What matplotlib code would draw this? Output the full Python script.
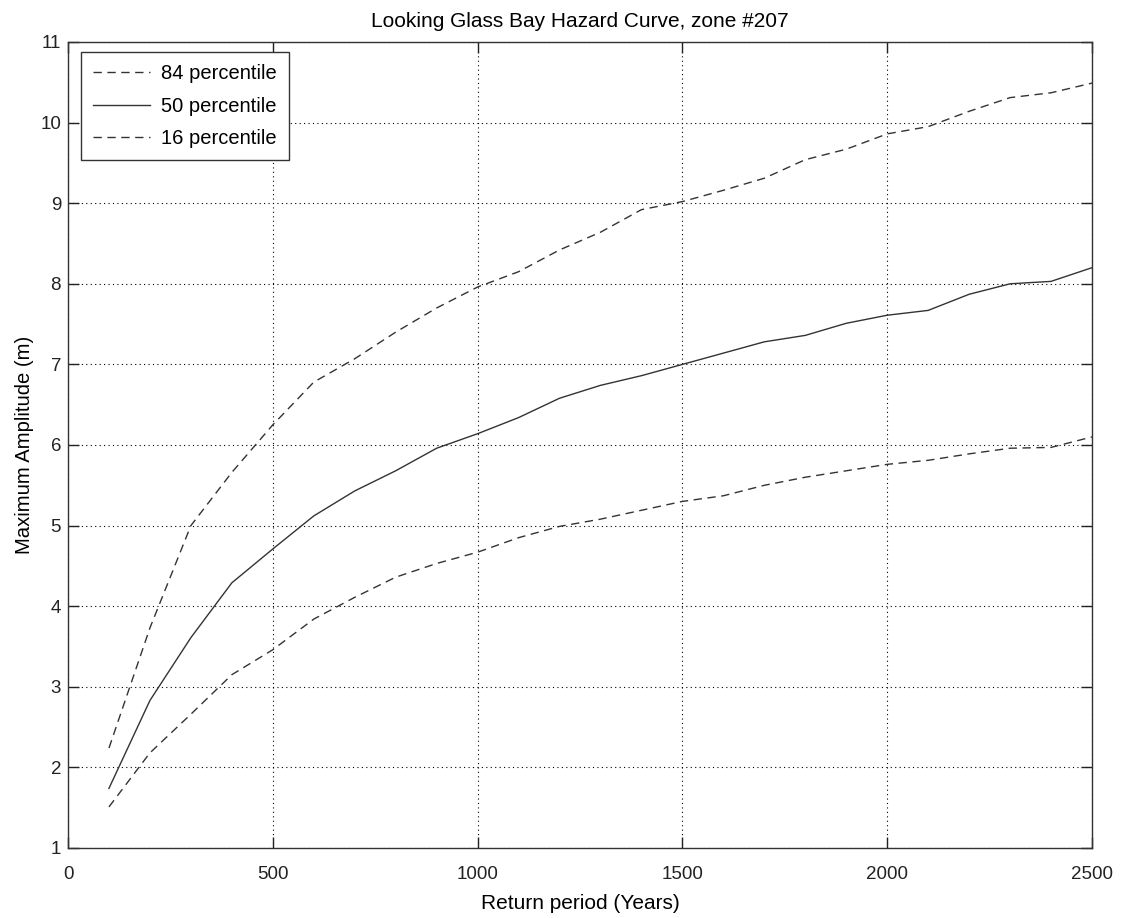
import matplotlib
matplotlib.use("Agg")
import matplotlib.pyplot as plt

return_period = [100, 200, 300, 400, 500, 600, 700, 800, 900, 1000, 1100, 1200, 1300,
                 1400, 1500, 1600, 1700, 1800, 1900, 2000, 2100, 2200, 2300, 2400, 2500]
p84 = [2.24, 3.73, 5.0, 5.66, 6.25, 6.78, 7.07, 7.40, 7.70, 7.96, 8.15, 8.42, 8.64,
       8.92, 9.02, 9.16, 9.31, 9.54, 9.67, 9.86, 9.95, 10.14, 10.31, 10.37, 10.49]
p50 = [1.74, 2.83, 3.61, 4.29, 4.71, 5.12, 5.43, 5.68, 5.96, 6.14, 6.34, 6.58, 6.74,
       6.86, 7.0, 7.14, 7.28, 7.36, 7.51, 7.61, 7.67, 7.87, 8.0, 8.03, 8.20]
p16 = [1.51, 2.18, 2.66, 3.15, 3.46, 3.84, 4.11, 4.36, 4.53, 4.67, 4.85, 4.99, 5.08,
       5.19, 5.30, 5.37, 5.50, 5.60, 5.68, 5.76, 5.81, 5.89, 5.96, 5.97, 6.10]
labels = ["84 percentile", "50 percentile", "16 percentile"]

plt.rcParams['font.family'] = ['Liberation Sans', 'DejaVu Sans']
fig = plt.figure(figsize=(11.28, 9.18), dpi=100)
ax = fig.add_axes([68/1128, 1-848/918, (1092-68)/1128, (848-42)/918])

lc = '#333333'
ax.plot(return_period, p84, linestyle=(0, (6, 4)), color=lc, lw=1.0, label=labels[0])
ax.plot(return_period, p50, linestyle='-', color=lc, lw=1.0, label=labels[1])
ax.plot(return_period, p16, linestyle=(0, (6, 4)), color=lc, lw=1.0, label=labels[2])

ax.set_xlim(0, 2500)
ax.set_ylim(1, 11)
ax.set_xticks(range(0, 2501, 500))
ax.set_yticks(range(1, 12))
ax.grid(True, linestyle=(0, (1, 3)), color='black', lw=0.8)
ax.tick_params(direction='in', top=True, right=True, labelsize=13.5, length=8, width=1,
               colors='#222222')
ax.tick_params(axis='x', pad=13)
ax.tick_params(axis='y', pad=5)
for s in ax.spines.values():
    s.set_linewidth(1.0)
    s.set_color('#333333')
ax.set_title("Looking Glass Bay Hazard Curve, zone #207", fontsize=15, pad=11)
ax.set_xlabel("Return period (Years)", fontsize=15, labelpad=8)
ax.set_ylabel("Maximum Amplitude (m)", fontsize=14.6, labelpad=4.5)
leg = ax.legend(loc='upper left', fontsize=14.5, fancybox=False, edgecolor='#333333',
                framealpha=1, handlelength=2.8, handletextpad=0.55, borderpad=0.62,
                labelspacing=0.65, borderaxespad=0,
                bbox_to_anchor=(0.0127, 0.9876))
leg.get_frame().set_linewidth(1.0)

fig.savefig("out.png", dpi=100)
